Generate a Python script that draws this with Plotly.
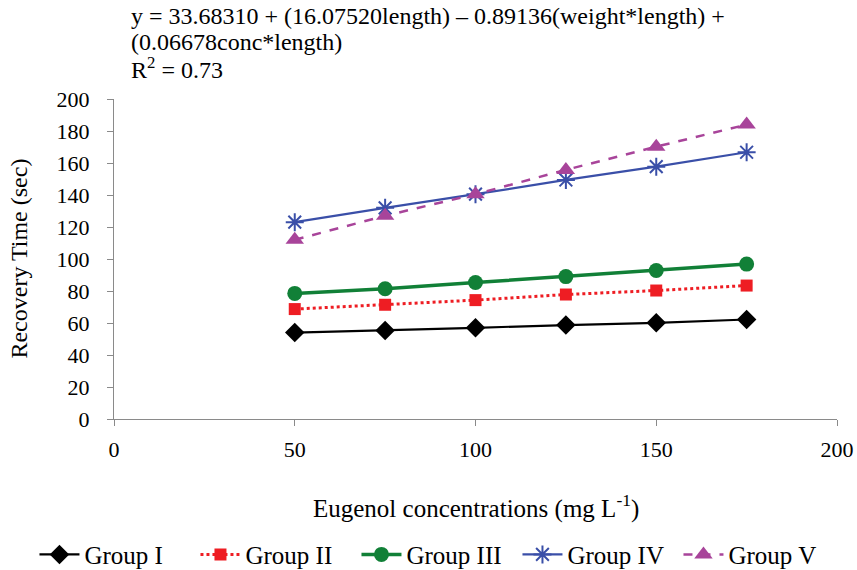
import plotly.graph_objects as go

conc = [50, 75, 100, 125, 150, 175]
group_names = ["Group I", "Group II", "Group III", "Group IV", "Group V"]
group_1 = [54, 55.3, 57, 58.7, 60.1, 62.2]
group_2 = [68.7, 71.4, 74.3, 77.8, 80.3, 83.4]
group_3 = [78.5, 81.4, 85.3, 89, 92.8, 96.8]
group_4 = [123, 132, 140.5, 149.4, 157.7, 166.7]
group_5 = [112, 127, 140.5, 155.7, 170.2, 184]

x_ticks = [0, 50, 100, 150, 200]
y_ticks = [0, 20, 40, 60, 80, 100, 120, 140, 160, 180, 200]

equation_lines = [
    "y = 33.68310 + (16.07520length) – 0.89136(weight*length) +",
    "(0.06678conc*length)",
    "R<sup>2</sup> = 0.73",
]
x_title = "Eugenol concentrations (mg L<sup>-1</sup>)"
y_title = "Recovery Time (sec)"

FONT = "serif"

styles = [
    dict(color="#000000", width=2.2, dash="solid", symbol="diamond", size=15, mline=0),
    dict(color="#EE1D23", width=3, dash="dot", symbol="square", size=12, mline=0),
    dict(color="#118037", width=3.5, dash="solid", symbol="circle", size=15, mline=0),
    dict(color="#3A4FA8", width=2.2, dash="solid", symbol="asterisk-open", size=15, mline=2),
    dict(color="#A8449A", width=2.5, dash="dash", symbol="triangle-up", size=16, mline=0),
]
series = [group_1, group_2, group_3, group_4, group_5]

fig = go.Figure()
for name, vals, st in zip(group_names, series, styles):
    fig.add_trace(go.Scatter(
        x=conc, y=vals, name=name, mode="lines+markers",
        line=dict(color=st["color"], width=st["width"], dash=st["dash"]),
        marker=dict(symbol=st["symbol"], size=st["size"], color=st["color"],
                    line=dict(color=st["color"], width=st["mline"])),
    ))

axis_common = dict(
    showgrid=False, zeroline=False, showline=True, linecolor="#8a8a8a", linewidth=1.3,
    ticks="outside", ticklen=6, tickcolor="#8a8a8a", tickwidth=1.3, automargin=False,
    tickfont=dict(family=FONT, size=22, color="#000"),
)

fig.update_xaxes(range=[0, 200], tickvals=x_ticks, ticklabelstandoff=4, **axis_common)
fig.update_yaxes(range=[0, 200], tickvals=y_ticks, ticklabelstandoff=13, **axis_common)

line_y = [1.26, 1.177, 1.097]
annotations = [
    dict(text=t, xref="paper", yref="paper", x=0.021, y=yy, xanchor="left", yanchor="middle",
         align="left", showarrow=False, font=dict(family=FONT, size=24, color="#000"))
    for t, yy in zip(equation_lines, line_y)
]
annotations += [
    dict(text=x_title, xref="paper", yref="paper",
         x=0.5, y=-0.272, xanchor="center", yanchor="middle", showarrow=False,
         font=dict(family=FONT, size=25, color="#000")),
    dict(text=y_title, xref="paper", yref="paper", textangle=-90,
         x=-0.132, y=0.5, xanchor="center", yanchor="middle", showarrow=False,
         font=dict(family=FONT, size=24, color="#000")),
]

fig.update_layout(
    width=857, height=570,
    margin=dict(l=114, r=20, t=99, b=151, autoexpand=False),
    plot_bgcolor="white", paper_bgcolor="white",
    font=dict(family=FONT, size=24, color="#000"),
    showlegend=True,
    legend=dict(orientation="h", x=-0.11, xanchor="left", y=-0.352, yanchor="top",
                font=dict(family=FONT, size=25, color="#000"), itemwidth=40,
                entrywidth=106, entrywidthmode="pixels", tracegroupgap=0),
    annotations=annotations,
)

fig.write_html("out.html", config={"displayModeBar": False},
               post_script="document.body.style.margin='0px';")
